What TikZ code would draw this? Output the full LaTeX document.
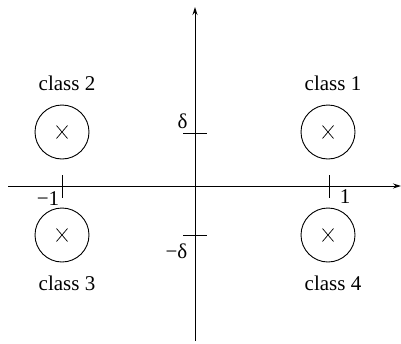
\documentclass[tikz,border=0pt]{standalone}
\usepackage{fontspec}
\setmainfont{Liberation Serif}
\usetikzlibrary{arrows.meta}
\begin{document}
\begin{tikzpicture}[x=1pt,y=-1pt,line width=0.9pt,
  lbl/.style={inner sep=0pt,anchor=base,font=\fontsize{21}{25}\selectfont},
  cls/.style={draw,circle,minimum size=54pt,inner sep=0pt},
  axis/.style={-{Stealth[length=8pt,width=5pt]}}]
\useasboundingbox (0,0) rectangle (401,343);
% axes
\coordinate (xl) at (8,186);
\coordinate (xr) at (401,186);
\coordinate (yb) at (195,341);
\coordinate (yt) at (195,7);
\draw[axis] (xl) -- (xr);
\draw[axis] (yb) -- (yt);
% ticks
\coordinate (t1a) at (62,175); \coordinate (t1b) at (62,198);
\coordinate (t2a) at (329,175); \coordinate (t2b) at (329,198);
\coordinate (t3a) at (183,133); \coordinate (t3b) at (207,133);
\coordinate (t4a) at (183,235); \coordinate (t4b) at (207,235);
\draw (t1a) -- (t1b);
\draw (t2a) -- (t2b);
\draw (t3a) -- (t3b);
\draw (t4a) -- (t4b);
% tick labels
\node[lbl] (m1) at (48,205) {−1};
\node[lbl] (p1) at (345,203) {1};
\node[lbl] (d) at (182.5,128) {δ};
\node[lbl] (md) at (176.5,258) {−δ};
% circles
\node[cls] (c1) at (328,132) {};
\node[cls] (c2) at (62,132) {};
\node[cls] (c3) at (62,235) {};
\node[cls] (c4) at (328,235) {};
\foreach \c in {c1,c2,c3,c4}{
  \draw[line width=0.7pt] ([shift={(-5.5,-6.5)}]\c.center) -- ([shift={(5.5,6.5)}]\c.center);
  \draw[line width=0.7pt] ([shift={(-5.5,6.5)}]\c.center) -- ([shift={(5.5,-6.5)}]\c.center);
}
% class labels
\node[lbl] (l1) at (333,90) {class 1};
\node[lbl] (l2) at (67,90) {class 2};
\node[lbl] (l3) at (67,290) {class 3};
\node[lbl] (l4) at (333,290) {class 4};
\end{tikzpicture}
\end{document}
